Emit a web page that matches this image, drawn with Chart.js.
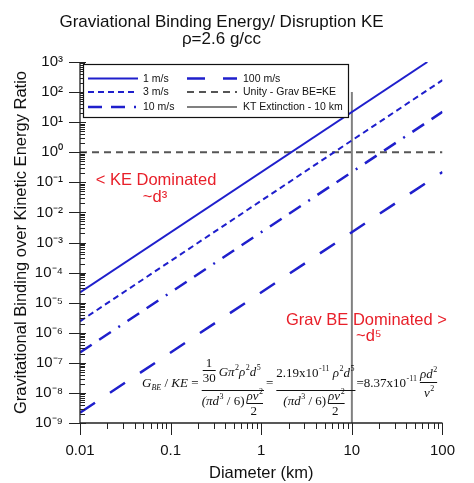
<!DOCTYPE html>
<html><head><meta charset="utf-8">
<script src="https://cdn.jsdelivr.net/npm/chart.js@4/dist/chart.umd.min.js"></script>
<style>html,body{margin:0;padding:0;background:#fff}#wrap{width:474px;height:483px}</style>
</head><body><div id="wrap"><canvas id="c" width="474" height="483"></canvas></div>
<script>
// ---- data ----
const seriesLabels = ['1 m/s', '3 m/s', '10 m/s', '100 m/s', 'Unity - Grav BE=KE', 'KT Extinction - 10 km'];
const diam1 = [0.01, 68];      const ratio1 = [2.2e-5, 1000];
const diam3 = [0.01, 100];     const ratio3 = [2.4e-6, 250];
const diam10 = [0.01, 100];    const ratio10 = [2.2e-7, 22];
const diam100 = [0.01, 100];   const ratio100 = [2.2e-9, 0.22];
const unityX = [0.01, 100];    const unityY = [1, 1];
const ktX = [10, 10];          const ktY = [1e-9, 100];
const xTickValues = [0.01, 0.1, 1, 10, 100];
const xTickLabels = ['0.01', '0.1', '1', '10', '100'];
const yTickValues = [1e-9, 1e-8, 1e-7, 1e-6, 1e-5, 1e-4, 1e-3, 1e-2, 1e-1, 1, 10, 100, 1000];
const yTickLabels = ['10⁻⁹', '10⁻⁸', '10⁻⁷', '10⁻⁶', '10⁻⁵', '10⁻⁴', '10⁻³', '10⁻²', '10⁻¹', '10⁰', '10¹', '10²', '10³'];
const titleLines = ['Graviational Binding Energy/ Disruption KE', 'ρ=2.6 g/cc'];
const xTitle = 'Diameter (km)';
const yTitle = 'Gravitational Binding over Kinetic Energy Ratio';

const pts = (xs, ys) => xs.map((x, i) => ({x: x, y: ys[i]}));
const BLUE = '#1f1fcc';
const SANS = '"Liberation Sans", Arial, sans-serif';
const SERIF = '"Liberation Serif", "Times New Roman", serif';

const datasets = [
  {label: seriesLabels[0], data: pts(diam1, ratio1), borderColor: BLUE, borderWidth: 2, borderDash: []},
  {label: seriesLabels[1], data: pts(diam3, ratio3), borderColor: BLUE, borderWidth: 2, borderDash: [6, 4]},
  {label: seriesLabels[2], data: pts(diam10, ratio10), borderColor: BLUE, borderWidth: 2.5, borderDash: [14, 9, 14, 9, 2, 9]},
  {label: seriesLabels[3], data: pts(diam100, ratio100), borderColor: BLUE, borderWidth: 2.5, borderDash: [18, 18]},
  {label: seriesLabels[4], data: pts(unityX, unityY), borderColor: '#555555', borderWidth: 2, borderDash: [7, 5]},
  {label: seriesLabels[5], data: pts(ktX, ktY), borderColor: '#808080', borderWidth: 2, borderDash: []}
].map(d => Object.assign(d, {showLine: true, pointRadius: 0, pointHoverRadius: 0, fill: false, tension: 0}));

// ---- axes: lines and tick marks ----
const axesPlugin = {
  id: 'axesTicks',
  afterDraw(chart) {
    const ctx = chart.ctx, a = chart.chartArea, xs = chart.scales.x, ys = chart.scales.y;
    ctx.save();
    ctx.strokeStyle = '#222';
    ctx.lineWidth = 1.3;
    ctx.beginPath();
    ctx.moveTo(a.left, a.top); ctx.lineTo(a.left, a.bottom);
    ctx.moveTo(a.left, a.bottom); ctx.lineTo(a.right, a.bottom);
    ctx.stroke();
    ctx.lineWidth = 1;
    ctx.beginPath();
    for (let e = -9; e <= 3; e++) {
      const base = Math.pow(10, e);
      const py = Math.round(ys.getPixelForValue(base)) + 0.5;
      ctx.moveTo(a.left - 11, py); ctx.lineTo(a.left + 6, py);
      if (e < 3) for (let m = 2; m <= 9; m++) {
        const p = Math.round(ys.getPixelForValue(base * m)) + 0.5;
        ctx.moveTo(a.left, p); ctx.lineTo(a.left + 5, p);
      }
    }
    for (let e = -2; e <= 2; e++) {
      const base = Math.pow(10, e);
      const px = Math.round(xs.getPixelForValue(base)) + 0.5;
      ctx.moveTo(px, a.bottom); ctx.lineTo(px, a.bottom + 12);
      if (e < 2) for (let m = 2; m <= 9; m++) {
        const p = Math.round(xs.getPixelForValue(base * m)) + 0.5;
        ctx.moveTo(p, a.bottom); ctx.lineTo(p, a.bottom + 6);
      }
    }
    ctx.stroke();
    ctx.restore();
  }
};

// ---- legend inside the plot ----
const legendPlugin = {
  id: 'boxLegend',
  afterDraw(chart) {
    const ctx = chart.ctx, a = chart.chartArea;
    const bx = a.left + 3, by = a.top + 2, bw = 265, bh = 53;
    ctx.save();
    ctx.fillStyle = '#fff';
    ctx.fillRect(bx, by, bw, bh);
    ctx.strokeStyle = '#111'; ctx.lineWidth = 1.2;
    ctx.strokeRect(bx + 0.5, by + 0.5, bw, bh);
    const rows = [14.5, 28, 43];
    const cols = [{s: 5, e: 55, t: 60}, {s: 104, e: 154, t: 160}];
    ctx.font = '10.5px ' + SANS;
    ctx.textBaseline = 'middle';
    ctx.fillStyle = '#111';
    chart.data.datasets.forEach((d, i) => {
      const c = cols[Math.floor(i / 3)], y = by + rows[i % 3];
      ctx.strokeStyle = d.borderColor; ctx.lineWidth = d.borderWidth;
      ctx.setLineDash(d.borderDash || []);
      ctx.beginPath(); ctx.moveTo(bx + c.s, y); ctx.lineTo(bx + c.e, y); ctx.stroke();
      ctx.setLineDash([]);
      ctx.fillText(d.label, bx + c.t, y + 0.5);
    });
    ctx.restore();
  }
};

// ---- annotations and formula ----
function seg(ctx, x, y, text, size, italic) {
  ctx.font = (italic ? 'italic ' : '') + size + 'px ' + SERIF;
  ctx.fillText(text, x, y);
  return x + ctx.measureText(text).width;
}
function rich(ctx, x, y, parts) {
  for (const [t, k] of parts) {
    if (k === 'n') x = seg(ctx, x, y, t, 13, false);
    else if (k === 'i') x = seg(ctx, x, y, t, 13, true);
    else if (k === 'p') x = seg(ctx, x + 0.5, y - 6, t, 8, false);
    else if (k === 'b') x = seg(ctx, x, y + 3, t, 8, true);
  }
  return x;
}
function hbar(ctx, x1, x2, y) { ctx.beginPath(); ctx.moveTo(x1, y); ctx.lineTo(x2, y); ctx.stroke(); }

const notePlugin = {
  id: 'notes',
  afterDraw(chart) {
    const ctx = chart.ctx, a = chart.chartArea;
    ctx.save();
    ctx.fillStyle = '#e8202a';
    ctx.font = '16.5px ' + SANS;
    ctx.textBaseline = 'alphabetic';
    ctx.textAlign = 'center';
    ctx.fillText('< KE Dominated', a.left + 76, a.top + 123);
    ctx.fillText('~d³', a.left + 75, a.top + 140);
    ctx.textAlign = 'left';
    ctx.fillText('Grav BE Dominated >', a.left + 206, a.top + 263);
    ctx.fillText('~d⁵', a.left + 276, a.top + 279);

    ctx.fillStyle = '#111'; ctx.strokeStyle = '#111'; ctx.lineWidth = 1;
    const y0 = a.bottom - 36;
    let x = a.left + 62;
    x = rich(ctx, x, y0, [['G', 'i'], ['BE', 'b'], [' / ', 'n'], ['KE', 'i'], [' = ', 'n']]);
    const f1 = x;
    seg(ctx, f1 + 4, y0 - 20, '1', 13, false);
    hbar(ctx, f1 + 1, f1 + 14, y0 - 16.5);
    seg(ctx, f1 + 1, y0 - 5, '30', 13, false);
    const n1end = rich(ctx, f1 + 17, y0 - 11, [['Gπ', 'i'], ['2', 'p'], ['ρ', 'i'], ['2', 'p'], ['d', 'i'], ['5', 'p']]);
    const d1 = rich(ctx, f1, y0 + 18, [['(π', 'i'], ['d', 'i'], ['3', 'p'], [' / 6)', 'n']]);
    const sv = rich(ctx, d1 + 2, y0 + 13, [['ρv', 'i'], ['2', 'p']]);
    hbar(ctx, d1 + 2, sv, y0 + 16.5);
    seg(ctx, d1 + 6, y0 + 28, '2', 13, false);
    const f1end = Math.max(n1end, sv) + 1;
    hbar(ctx, f1, f1end, y0 + 3.5);
    x = seg(ctx, f1end + 2, y0, '=', 13, false) + 3;
    const f2 = x;
    const n2end = rich(ctx, f2, y0 - 10, [['2.19x10', 'n'], ['-11', 'p'], [' ρ', 'i'], ['2', 'p'], ['d', 'i'], ['5', 'p']]);
    const d2 = rich(ctx, f2 + 7, y0 + 18, [['(π', 'i'], ['d', 'i'], ['3', 'p'], [' / 6)', 'n']]);
    const sv2 = rich(ctx, d2 + 2, y0 + 13, [['ρv', 'i'], ['2', 'p']]);
    hbar(ctx, d2 + 2, sv2, y0 + 16.5);
    seg(ctx, d2 + 6, y0 + 28, '2', 13, false);
    const f2end = Math.max(n2end, sv2) + 1;
    hbar(ctx, f2, f2end, y0 + 3.5);
    x = seg(ctx, f2end + 1, y0, '=', 13, false);
    x = rich(ctx, x, y0, [['8.37x10', 'n'], ['-11', 'p']]) + 3;
    const n3 = rich(ctx, x, y0 - 9, [['ρd', 'i'], ['2', 'p']]);
    hbar(ctx, x, n3, y0 - 4.5);
    rich(ctx, x + 4, y0 + 10, [['v', 'i'], ['2', 'p']]);
    ctx.restore();
  }
};

const chart = new Chart(document.getElementById('c'), {
  type: 'scatter',
  data: {datasets: datasets},
  options: {
    responsive: false,
    animation: false,
    devicePixelRatio: 1,
    layout: {padding: {left: 0, right: 31, top: 0, bottom: 0}},
    plugins: {
      legend: {display: false},
      tooltip: {enabled: false},
      title: {
        display: true, text: titleLines, color: '#111',
        font: {family: SANS, size: 17, weight: 'normal', lineHeight: 1.0},
        padding: {top: 14, bottom: 14}
      }
    },
    scales: {
      x: {
        type: 'logarithmic', min: 0.01, max: 100,
        afterBuildTicks: s => { s.ticks = xTickValues.map(v => ({value: v})); },
        afterFit: s => { s.height = 60; },
        grid: {display: false, drawTicks: false}, border: {display: false},
        ticks: {autoSkip: false, maxRotation: 0, padding: 19, color: '#111',
          font: {family: SANS, size: 15},
          callback: (v, i) => xTickLabels[i]},
        title: {display: true, text: xTitle, color: '#111', font: {family: SANS, size: 16.5}, padding: {top: 0, bottom: 0}}
      },
      y: {
        type: 'logarithmic', min: 1e-9, max: 1000,
        afterBuildTicks: s => { s.ticks = yTickValues.map(v => ({value: v})); },
        afterFit: s => { s.width = 80; },
        grid: {display: false, drawTicks: false}, border: {display: false},
        ticks: {autoSkip: false, padding: 17, color: '#111',
          font: {family: SANS, size: 15},
          callback: (v, i) => yTickLabels[i]},
        title: {display: true, text: yTitle, color: '#111', font: {family: SANS, size: 16.5}, padding: {top: 12, bottom: 0}}
      }
    }
  },
  plugins: [axesPlugin, legendPlugin, notePlugin]
});
</script>
</body></html>
